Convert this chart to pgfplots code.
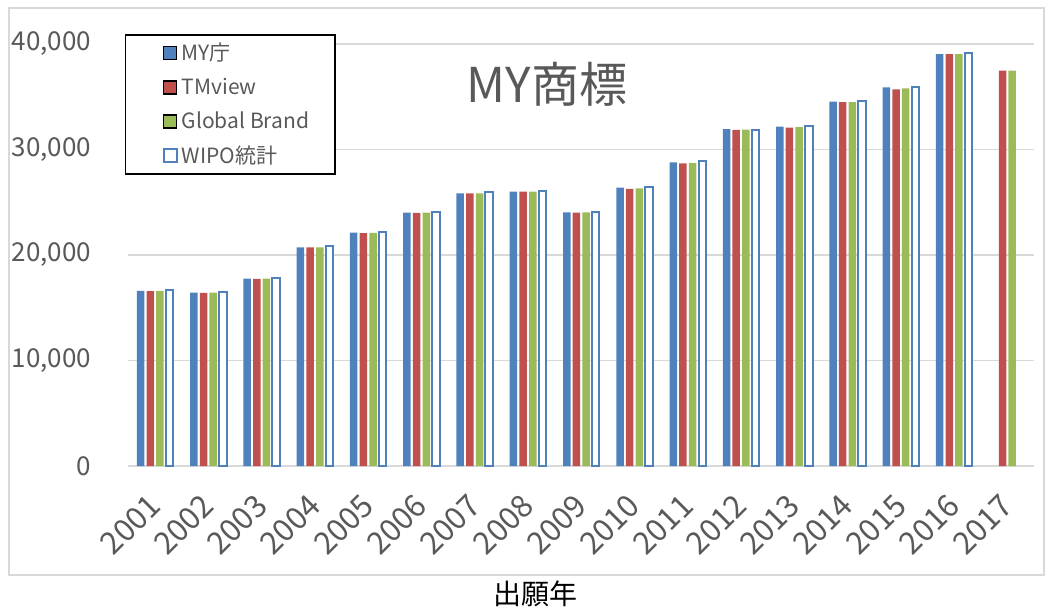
\documentclass[border=0pt]{standalone}
\usepackage{fontspec}
\setmainfont{Noto Sans CJK JP}
\usepackage{pgfplots}
\pgfplotsset{compat=1.18}
\definecolor{myblue}{HTML}{4F81BD}
\definecolor{myred}{HTML}{C0504D}
\definecolor{mygreen}{HTML}{9BBB59}
\definecolor{gridgray}{HTML}{D9D9D9}
\definecolor{textgray}{HTML}{595959}

\begin{document}
\begin{tikzpicture}
% page = 1045 x 607 px at 0.5pt per px, origin at the axis' lower left corner
\useasboundingbox (-64.25pt,-70.5pt) rectangle (458.25pt,233pt);
\draw[gridgray, line width=0.75pt] (-59.75pt,-54.5pt) rectangle (457.75pt,229pt);
\begin{axis}[
    at={(0,0)}, anchor=south west,
    scale only axis,
    width=452.75pt, height=211pt,
    ybar=1.08pt, bar width=3.75pt,
    xmin=2000.5, xmax=2017.5,
    ymin=0, ymax=40000,
    xtick={2001,2002,2003,2004,2005,2006,2007,2008,2009,2010,2011,2012,2013,2014,2015,2016,2017},
    xticklabels={2001,2002,2003,2004,2005,2006,2007,2008,2009,2010,2011,2012,2013,2014,2015,2016,2017},
    ytick={0,10000,20000,30000,40000},
    scaled y ticks=false,
    /pgf/number format/assume math mode=true,
    /pgf/number format/1000 sep={,},
    ymajorgrids,
    major grid style={gridgray, line width=0.75pt},
    axis line style={draw=none},
    major tick length=0pt,
    tick label style={text=textgray},
    yticklabel style={font=\fontsize{13}{15}\selectfont, anchor=east, inner sep=0pt, xshift=-18.5pt},
    xticklabel style={font=\fontsize{15.5}{18}\selectfont, xshift=0pt, yshift=-17pt,
        rotate=45, anchor=east, inner sep=0pt},
    title={MY商標},
    title style={at={(axis description cs:0.462,0.877)}, anchor=center,
        font=\fontsize{24}{27}\selectfont, text=textgray},
    xlabel={出願年},
    xlabel style={at={(axis description cs:0.4495,0)}, anchor=center, yshift=-64pt,
        font=\fontsize{14}{16}\selectfont, text=black},
    legend style={at={(-0.0039,1.0237)}, anchor=north west, draw=black, line width=0.75pt,
        fill=white, inner xsep=0pt, inner ysep=2pt, row sep=3.2pt,
        font=\fontsize{10.5}{12}\selectfont, text=textgray},
    legend cell align=left,
    legend image code/.code={\path (0pt,0pt) -- (0pt,0pt);
        \draw[#1] (18.5pt,-3.25pt) rectangle (25pt,3.25pt);},
]
\addplot[fill=myblue, draw=none] coordinates {
  (2001,16600) (2002,16430) (2003,17750) (2004,20730) (2005,22110) (2006,24010)
  (2007,25850) (2008,26000) (2009,24050) (2010,26380) (2011,28790) (2012,31940)
  (2013,32160) (2014,34530) (2015,35900) (2016,39050)};
\addplot[fill=myred, draw=none] coordinates {
  (2001,16580) (2002,16420) (2003,17740) (2004,20720) (2005,22080) (2006,24000)
  (2007,25840) (2008,26000) (2009,24020) (2010,26260) (2011,28690) (2012,31850)
  (2013,32070) (2014,34500) (2015,35700) (2016,39050) (2017,37470)};
\addplot[fill=mygreen, draw=none] coordinates {
  (2001,16590) (2002,16430) (2003,17750) (2004,20730) (2005,22100) (2006,24010)
  (2007,25850) (2008,26010) (2009,24040) (2010,26320) (2011,28720) (2012,31880)
  (2013,32130) (2014,34500) (2015,35800) (2016,39050) (2017,37470)};
\addplot[fill=white, draw=myblue, line width=1pt] coordinates {
  (2001,16650) (2002,16490) (2003,17790) (2004,20820) (2005,22210) (2006,24040)
  (2007,25940) (2008,26070) (2009,24100) (2010,26410) (2011,28880) (2012,31880)
  (2013,32260) (2014,34570) (2015,35950) (2016,39120)};
\legend{MY庁, TMview, Global Brand\rule{11pt}{0pt}, WIPO統計}
\end{axis}
\end{tikzpicture}
\end{document}
